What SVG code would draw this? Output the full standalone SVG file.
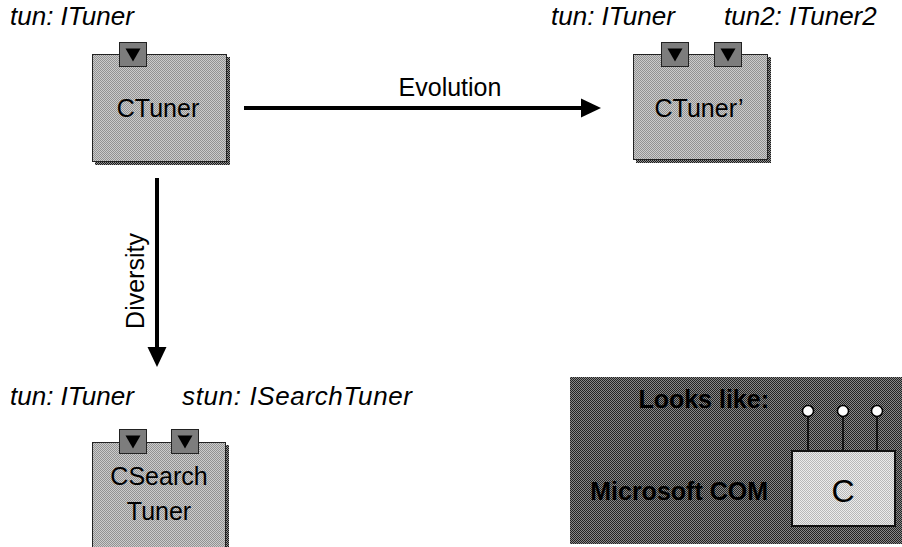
<svg xmlns="http://www.w3.org/2000/svg" width="902" height="547" viewBox="0 0 902 547">
<defs>
<pattern id="pBox" patternUnits="userSpaceOnUse" width="2" height="2"><rect width="2" height="2" fill="#cccccc"/><rect width="1" height="1" fill="#929292"/><rect x="1" y="1" width="1" height="1" fill="#929292"/></pattern>
<pattern id="pPort" patternUnits="userSpaceOnUse" width="2" height="2"><rect width="2" height="2" fill="#a0a0a0"/><rect width="1" height="1" fill="#5a5a5a"/><rect x="1" y="1" width="1" height="1" fill="#5a5a5a"/></pattern>
<pattern id="pShadow" patternUnits="userSpaceOnUse" width="2" height="2"><rect width="2" height="2" fill="#909090"/><rect width="1" height="1" fill="#1a1a1a"/><rect x="1" y="1" width="1" height="1" fill="#1a1a1a"/></pattern>
<pattern id="pPanel" patternUnits="userSpaceOnUse" width="2" height="2"><rect width="2" height="2" fill="#888"/><rect width="1" height="1" fill="#222"/><rect x="1" y="1" width="1" height="1" fill="#222"/></pattern>
<pattern id="pInner" patternUnits="userSpaceOnUse" width="2" height="2"><rect width="2" height="2" fill="#ececec"/><rect width="1" height="1" fill="#b8b8b8"/><rect x="1" y="1" width="1" height="1" fill="#b8b8b8"/></pattern>
<g id="port"><rect x="0" y="0" width="27" height="24" fill="url(#pPort)" stroke="#222" stroke-width="1"/><path d="M6,6 L21,6 L13.5,19 Z" fill="#000"/></g>
</defs>
<style>
text{font-family:"Liberation Sans",Arial,sans-serif;fill:#000}
.lbl{font-size:26px;font-style:italic}
.nm{font-size:25px;text-anchor:middle}
.box{fill:url(#pBox);stroke:#222;stroke-width:1}
.shadow{fill:url(#pShadow)}
.bold{font-size:25px;font-weight:bold;text-anchor:end}
.conn{stroke:#000;stroke-width:4;fill:none}
.head{fill:#000}
</style>
<rect width="902" height="547" fill="#fff"/>

<g id="ctuner">
<text class="lbl" x="10" y="25">tun: ITuner</text>
<rect class="shadow" x="95" y="57" width="135" height="108"/>
<rect class="box" x="92.5" y="54.5" width="134" height="107"/>
<use href="#port" x="119.5" y="42.5"/>
<text class="nm" x="158" y="117">CTuner</text>
</g>

<g id="ctuner2">
<text class="lbl" x="551" y="25">tun: ITuner</text>
<text class="lbl" x="724" y="25">tun2: ITuner2</text>
<rect class="shadow" x="636" y="57" width="135" height="106"/>
<rect class="box" x="633.5" y="54.5" width="134" height="105"/>
<use href="#port" x="661.5" y="42.5"/>
<use href="#port" x="714.5" y="42.5"/>
<text class="nm" x="699" y="117">CTuner’</text>
</g>

<g id="csearch">
<text class="lbl" x="10" y="405">tun: ITuner</text>
<text class="lbl" x="182" y="405" textLength="230">stun: ISearchTuner</text>
<rect class="shadow" x="95" y="445" width="134" height="110"/>
<rect class="box" x="92.5" y="442.5" width="133" height="110"/>
<use href="#port" x="119.5" y="429.5"/>
<use href="#port" x="171.5" y="429.5"/>
<text class="nm" x="159" y="485">CSearch</text>
<text class="nm" x="159" y="520">Tuner</text>
</g>

<g id="legend">
<rect x="570" y="377" width="332" height="167" fill="url(#pPanel)"/>
<text class="bold" x="769" y="408">Looks like:</text>
<text class="bold" x="768" y="500">Microsoft COM</text>
<g stroke="#000" stroke-width="1.5">
<line x1="808" y1="416" x2="808" y2="451"/>
<line x1="843" y1="416" x2="843" y2="451"/>
<line x1="877" y1="416" x2="877" y2="451"/>
</g>
<g fill="#fff" stroke="#000" stroke-width="1.5">
<circle cx="808" cy="411" r="5.5"/>
<circle cx="843" cy="411" r="5.5"/>
<circle cx="877" cy="411" r="5.5"/>
</g>
<rect x="792" y="451" width="103" height="75" fill="url(#pInner)" stroke="#111" stroke-width="2"/>
<text x="843" y="502" font-size="32" text-anchor="middle">C</text>
</g>

<g id="connectors">
<line class="conn" x1="244" y1="108" x2="584" y2="108"/>
<path class="head" d="M581,98.5 L601,108 L581,117.5 Z"/>
<text x="450" y="96" font-size="25" text-anchor="middle">Evolution</text>
<line class="conn" x1="157" y1="178" x2="157" y2="349"/>
<path class="head" d="M147.5,347 L157,367 L166.5,347 Z"/>
<text x="0" y="0" font-size="25" text-anchor="middle" transform="translate(144,281) rotate(-90)">Diversity</text>
</g>
</svg>
